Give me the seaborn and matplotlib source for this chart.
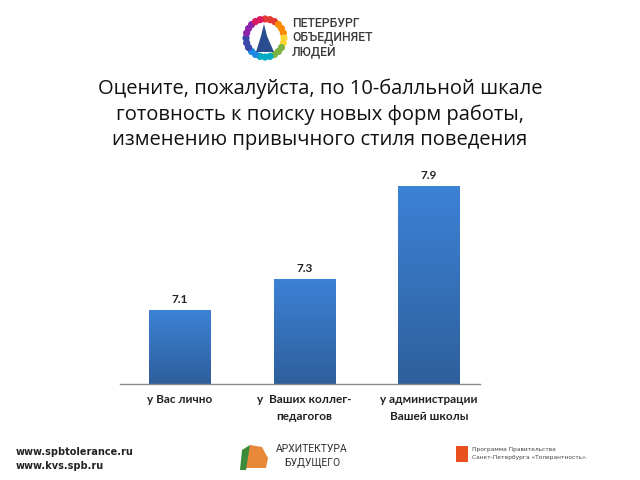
import numpy as np
import pandas as pd
import matplotlib
matplotlib.use("Agg")
import matplotlib.pyplot as plt
import seaborn as sns
from matplotlib.patches import Circle, Rectangle, Polygon
from matplotlib.colors import LinearSegmentedColormap

categories = ["у Вас лично", "у  Ваших коллег-\nпедагогов", "у администрации\nВашей школы"]
values = [7.1, 7.3, 7.9]
value_labels = ["7.1", "7.3", "7.9"]
title = ("Оцените, пожалуйста, по 10-балльной шкале\n"
         "готовность к поиску новых форм работы,\n"
         "изменению привычного стиля поведения")

YMIN, YMAX = 6.62, 8.0

sns.set_theme(style="white")
plt.rcParams['font.family'] = ['DejaVu Sans']

fig = plt.figure(figsize=(6.4, 4.8), dpi=100)
fig.patch.set_facecolor("white")

ax = fig.add_axes([0.1875, 0.2, 0.5625, 0.4458])
df = pd.DataFrame({"cat": categories, "val": values})
sns.barplot(data=df, x="cat", y="val", ax=ax, color="#3574c4", width=0.49,
            edgecolor="#2a4f80", linewidth=0.6)
ax.set_ylim(YMIN, YMAX)
ax.set_xlim(-0.48, 2.41)
for s in ["top", "right", "left"]:
    ax.spines[s].set_visible(False)
ax.spines["bottom"].set_color("#8c8c8c")
ax.spines["bottom"].set_linewidth(1.0)
ax.set_yticks([])
ax.set_xlabel("")
ax.set_ylabel("")
ax.tick_params(axis="x", length=0, pad=7)
for t in ax.get_xticklabels():
    t.set_fontfamily(["Lato", "DejaVu Sans"])
    t.set_fontweight("bold")
    t.set_fontsize(8.5)
    t.set_color("#222222")
    t.set_linespacing(1.75)

cmap = LinearSegmentedColormap.from_list("g", ["#3c82d6", "#2f5f9c"])
grad = np.linspace(0, 1, 256).reshape(-1, 1)
for p, lab in zip(ax.patches, value_labels):
    x0, y0 = p.get_x(), p.get_y()
    w, h = p.get_width(), p.get_height()
    im = ax.imshow(grad, cmap=cmap, aspect="auto",
                   extent=(x0, x0 + w, YMIN, y0 + h), zorder=p.get_zorder() + 0.1,
                   origin="upper")
    im.set_clip_path(p)
    ax.text(x0 + w / 2, y0 + h + 0.03, lab, ha="center", va="bottom",
            fontsize=8.5, fontweight="bold", color="#222222",
            family=["Lato", "DejaVu Sans"])
ax.set_xlim(-0.48, 2.41)
ax.set_ylim(YMIN, YMAX)

# Title
fig.text(0.5, 0.7625, title, ha="center", va="center", fontsize=14.5,
         color="#111111", linespacing=1.36, family=["Open Sans", "DejaVu Sans"])

# Top logo: ring of coloured dots
lax = fig.add_axes([0, 0, 1, 1], facecolor="none")
lax.set_xlim(0, 640)
lax.set_ylim(480, 0)
lax.axis("off")
cx, cy, r = 265, 38, 19
cols = ["#e53935", "#fb8c00", "#fdd835", "#7cb342", "#00acc1", "#1e88e5", "#3949ab", "#8e24aa", "#d81b60"]
for i in range(24):
    a = 2 * np.pi * i / 24 - np.pi / 2
    lax.add_patch(Circle((cx + r * np.cos(a), cy + r * np.sin(a)), 3.6,
                         color=cols[(i * len(cols)) // 24], lw=0))
lax.add_patch(Polygon([[256, 52], [261, 36], [264, 24], [267, 36], [274, 52]],
                      closed=True, color="#2a4d8f", lw=0))
lax.text(292, 38, "ПЕТЕРБУРГ\nОБЪЕДИНЯЕТ\nЛЮДЕЙ", ha="left", va="center",
         fontsize=8.8, color="#3a3a3a", linespacing=1.05, fontweight="medium",
         family=["Roboto", "DejaVu Sans"])

# Bottom left URLs
lax.text(16, 452, "www.spbtolerance.ru", ha="left", va="center",
         fontsize=7, fontweight="bold", color="#222222")
lax.text(16, 466, "www.kvs.spb.ru", ha="left", va="center",
         fontsize=7, fontweight="bold", color="#222222")

# Bottom center logo
lax.add_patch(Polygon([[246, 468], [244, 455], [250, 445], [262, 447], [268, 458], [266, 468]],
                      closed=True, color="#e8893a", lw=0))
lax.add_patch(Polygon([[240, 470], [242, 450], [250, 445], [246, 470]],
                      closed=True, color="#3a8c3a", lw=0))
lax.text(276, 449, "АРХИТЕКТУРА", ha="left", va="center", fontsize=7.5,
         color="#333333", family=["Roboto", "DejaVu Sans"])
lax.text(284, 463, "БУДУЩЕГО", ha="left", va="center", fontsize=7.5,
         color="#333333", family=["Roboto", "DejaVu Sans"])

# Bottom right
lax.add_patch(Rectangle((456, 446), 12, 16, color="#e8501e", lw=0))
lax.text(472, 450, "Программа Правительства", ha="left", va="center",
         fontsize=4.2, color="#444444")
lax.text(472, 458, "Санкт-Петербурга «Толерантность».", ha="left", va="center",
         fontsize=4.2, color="#444444")

fig.savefig("out.png", dpi=100)
